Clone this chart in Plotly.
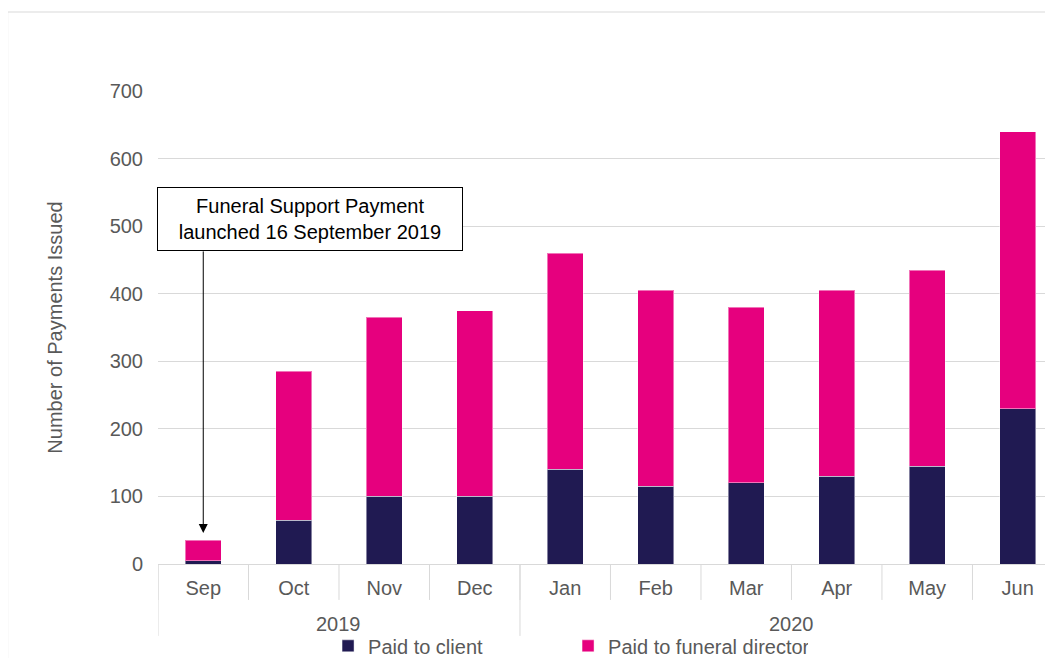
import plotly.graph_objects as go

months = ["Sep", "Oct", "Nov", "Dec", "Jan", "Feb", "Mar", "Apr", "May", "Jun"]
years = ["2019", "2019", "2019", "2019", "2020", "2020", "2020", "2020", "2020", "2020"]
paid_client = [5, 65, 100, 100, 140, 115, 120, 130, 145, 230]
paid_director = [30, 220, 265, 275, 320, 290, 260, 275, 290, 410]
y_ticks = [0, 100, 200, 300, 400, 500, 600, 700]

NAVY = "#201A52"
PINK = "#E6007E"
GREY_TXT = "#595959"
GRID = "#D9D9D9"
FONT = "Liberation Sans, Arial, sans-serif"

fig = go.Figure()
fig.add_trace(go.Bar(x=months, y=paid_client, name="Paid to client",
                     marker=dict(color=NAVY, line=dict(color="rgba(255,255,255,0.45)", width=1))))
fig.add_trace(go.Bar(x=months, y=paid_director, name="Paid to funeral director",
                     marker=dict(color=PINK, line=dict(color="rgba(255,255,255,0.45)", width=1))))

x_min, x_max = -0.5, 9.39
shapes = []
# month dividers
for i in range(len(months) + 1):
    xb = i - 0.5
    if xb > x_max:
        continue
    shapes.append(dict(type="line", xref="x", yref="paper", x0=xb, x1=xb, y0=0, y1=-0.076,
                       line=dict(color=GRID, width=1)))
# year dividers
bounds = [0]
for i in range(1, len(years)):
    if years[i] != years[i - 1]:
        bounds.append(i)
bounds.append(len(years))
for b in bounds:
    xb = b - 0.5
    if xb > x_max:
        continue
    shapes.append(dict(type="line", xref="x", yref="paper", x0=xb, x1=xb, y0=0, y1=-0.152,
                       line=dict(color=GRID, width=1)))
# outer frame
shapes.append(dict(type="rect", xref="paper", yref="paper", x0=-0.168, x1=1.05, y0=-0.35, y1=1.167,
                   line=dict(color=GRID, width=1), fillcolor="rgba(0,0,0,0)", layer="below"))

annotations = []
for k in range(len(bounds) - 1):
    center = (bounds[k] + bounds[k + 1] - 1) / 2
    annotations.append(dict(x=center, xref="x", y=-0.127, yref="paper", text=years[bounds[k]],
                            showarrow=False, font=dict(size=20, color=GREY_TXT, family=FONT),
                            yanchor="middle"))

annotations.append(dict(x=0.1698, xref="paper", y=510, yref="y",
                        text="Funeral Support Payment<br>launched 16 September 2019",
                        showarrow=False, font=dict(size=20, color="#000000", family=FONT),
                        bordercolor="#000000", borderwidth=1, borderpad=1, bgcolor="white",
                        width=302, height=60, xanchor="center", yanchor="middle"))
annotations.append(dict(x="Sep", xref="x", y=46, yref="y", text="", showarrow=True,
                        ax=0, ay=-283, arrowhead=2, arrowsize=1.8, arrowwidth=1,
                        arrowcolor="#000000"))

fig.update_layout(
    barmode="stack",
    bargap=0.6,
    width=1045, height=650,
    margin=dict(l=150, r=0, t=83, b=94, autoexpand=False),
    paper_bgcolor="white", plot_bgcolor="white",
    font=dict(family=FONT, size=20, color=GREY_TXT),
    showlegend=True,
    legend=dict(orientation="h", x=0.19, xanchor="left", y=-0.173, yanchor="middle",
                font=dict(size=20, color=GREY_TXT, family=FONT), entrywidth=195,
                traceorder="normal", bgcolor="rgba(0,0,0,0)"),
    shapes=shapes,
    annotations=annotations,
)
fig.update_xaxes(range=[x_min, x_max], showgrid=False, showline=True, linecolor=GRID, linewidth=1,
                 ticks="", tickfont=dict(size=20, color=GREY_TXT, family=FONT), ticklabelstandoff=6,
                 zeroline=False)
fig.update_yaxes(range=[0, 700], tickvals=y_ticks, showgrid=True, gridcolor=GRID, gridwidth=1,
                 zeroline=False, showline=False, ticks="",
                 tickfont=dict(size=20, color=GREY_TXT, family=FONT), ticklabelstandoff=14,
                 title=dict(text="Number of Payments Issued", font=dict(size=20, color=GREY_TXT, family=FONT),
                            standoff=41))

fig.write_html("out.html")
